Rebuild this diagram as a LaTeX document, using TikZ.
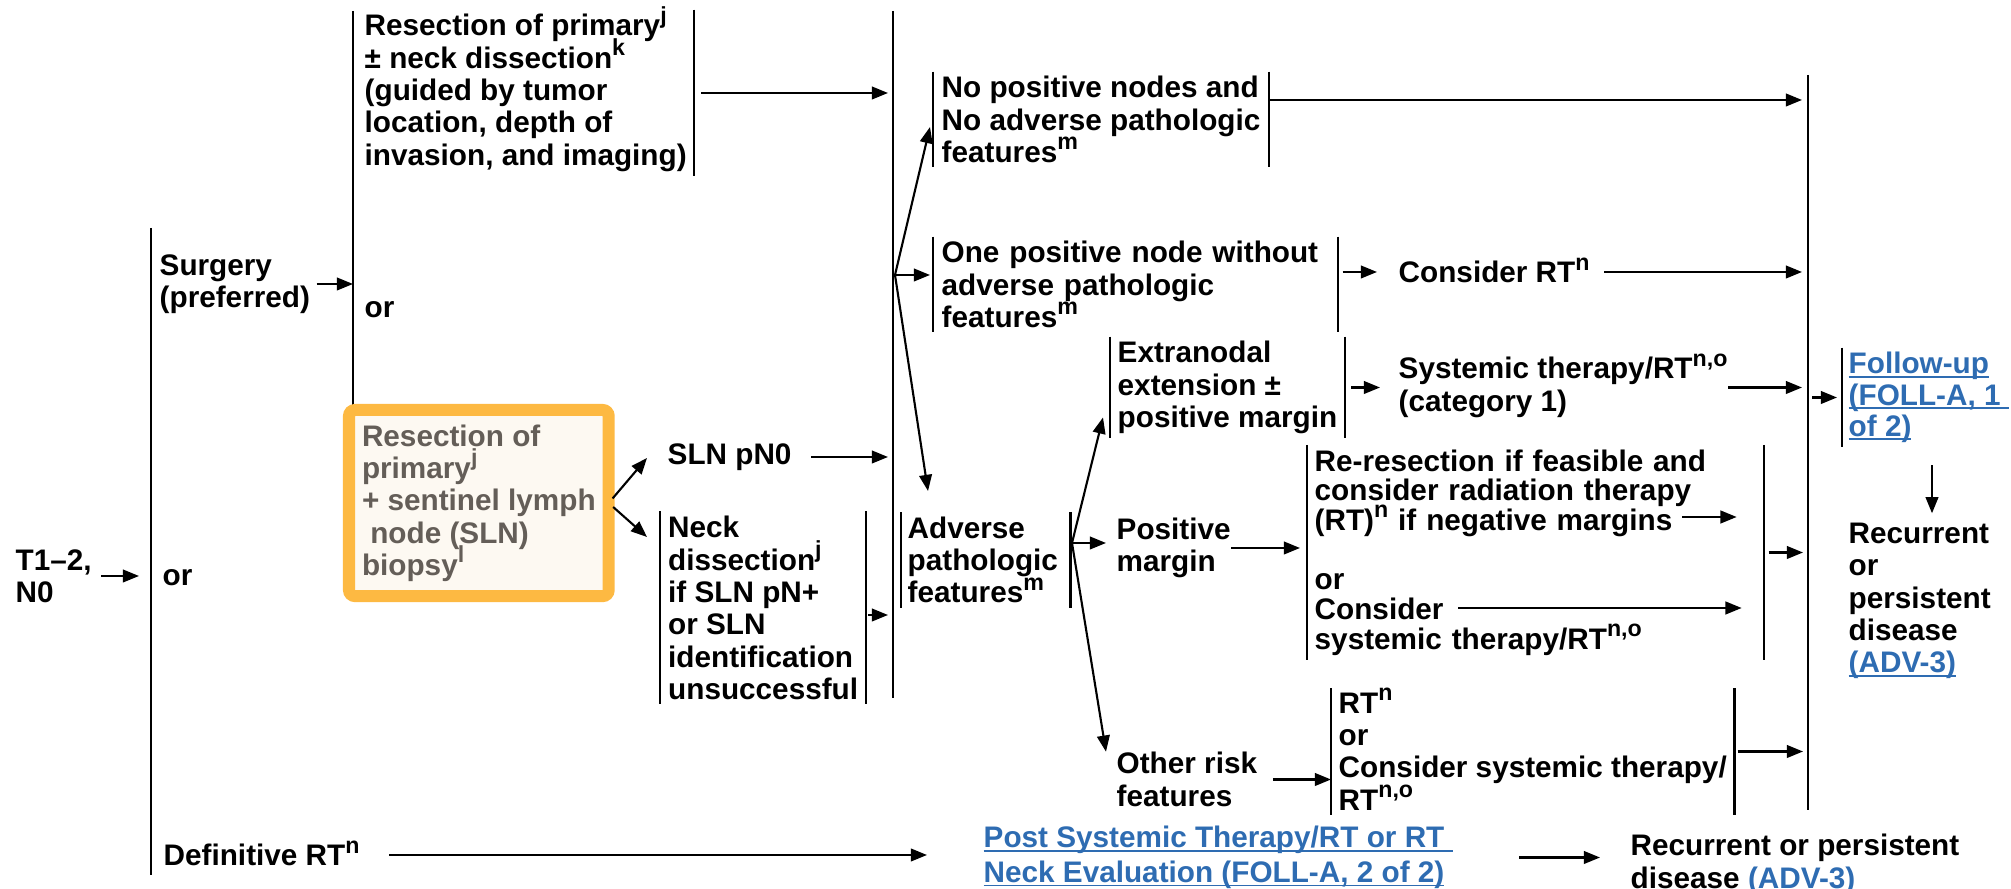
\documentclass[tikz,border=0pt]{standalone}
\usepackage{fontspec}
\setmainfont{Liberation Sans}
\usetikzlibrary{arrows.meta}

\definecolor{nccnorange}{RGB}{253,185,66}
\definecolor{nccncream}{RGB}{253,249,242}
\definecolor{nccngray}{RGB}{100,94,88}
\definecolor{nccnblue}{RGB}{46,108,178}

\newsavebox{\lnkbox}
\newcommand{\fnote}[1]{\raisebox{0.42em}[0pt][0pt]{\fontsize{6.6}{6.6}\selectfont #1}}
\newcommand{\lnk}[1]{{\color{nccnblue}\sbox{\lnkbox}{#1}\rlap{\rule[-1.1pt]{\wd\lnkbox}{0.55pt}}\usebox{\lnkbox}}}

\tikzset{
  txt/.style={anchor=west, inner sep=0pt, align=left,
    font=\bfseries\fontsize{8.45}{9.2}\selectfont},
  brk/.style={txt, inner xsep=0.07cm, inner ysep=0.04cm},
  bar/.style={line width=0.6pt},
  arr/.style={line width=0.6pt, -{Triangle[length=4.6pt,width=3.6pt]}}
}

\begin{document}
\begin{tikzpicture}[x=0.01cm, y=-0.01cm]
\useasboundingbox (0,0) rectangle (2011,889);

%% main bars
\coordinate (b1t) at (151,228);
\coordinate (b1b) at (151,875);
\coordinate (b2t) at (353,11);
\coordinate (b2b) at (353,405);
\coordinate (b3t) at (893,11);
\coordinate (b3b) at (893,698);
\coordinate (b4t) at (1808,75);
\coordinate (b4b) at (1808,810);
\draw[bar] (b1t) -- (b1b);
\draw[bar] (b2t) -- (b2b);
\draw[bar] (b3t) -- (b3b);
\draw[bar] (b4t) -- (b4b);

%% text blocks
\node[txt] (t12) at (15,576) {T1–2,\\N0};
\node[txt] (surg) at (159,284) {Surgery\\(preferred)};
\node[txt] (or1) at (162,578) {or};
\node[txt] (defrt) at (163,855) {Definitive RT\fnote{n}};

\node[brk] (res) at (357,93) {Resection of primary\fnote{j}\\± neck dissection\fnote{k}\\(guided by tumor\\location, depth of\\invasion, and imaging)};
\node[txt] (or2) at (364,310) {or};
\node[txt, anchor=north west, draw=nccnorange, line width=0.12cm, fill=nccncream,
  rounded corners=0.06cm, text=nccngray, minimum height=1.86cm, outer sep=0pt,
  inner xsep=0.13cm] (slnbox) at (349,410)
  {Resection of\\primary\fnote{j}\\+ sentinel lymph\\\hspace*{0.28em}node (SLN)\\biopsy\fnote{l}};
\node[txt] (slnpn0) at (667,457) {SLN pN0};
\node[brk, inner xsep=0.075cm] (neck) at (660,608) {Neck\\dissection\fnote{j}\\if SLN pN+\\or SLN\\identification\\unsuccessful};

\node[brk, inner xsep=0.08cm] (nopos) at (933,119.5) {No positive nodes and\\No adverse pathologic\\features\fnote{m}};
\node[brk, inner xsep=0.08cm, text width=3.87cm] (onepos) at (933,284.5) {One positive node without\\adverse pathologic\\features\fnote{m}};
\node[brk, inner xsep=0.06cm, text width=1.56cm] (adverse) at (901,560) {Adverse\\pathologic\\features\fnote{m}};
\node[txt] (considerrt) at (1398,272) {Consider RT\fnote{n}};
\node[brk] (extra) at (1110,387.5) {Extranodal\\extension ±\\positive margin};
\node[txt] (systher) at (1398,387.5) {Systemic therapy/RT\fnote{n,o}\\(category 1)};
\node[txt] (posm) at (1116,548) {Positive\\margin};
\node[brk, text width=4.41cm, font=\bfseries\fontsize{8.45}{8.45}\selectfont] (rr) at (1307,552.5)
  {Re-resection if feasible and\\consider radiation therapy\\(RT)\fnote{n} if negative margins\\[8.45pt]or\\Consider\\systemic therapy/RT\fnote{n,o}};
\node[txt] (other) at (1116,779.5) {Other risk\\features};
\node[brk] (rtblk) at (1331,751.5) {RT\fnote{n}\\or\\Consider systemic therapy/\\RT\fnote{n,o}};

\node[brk, inner xsep=0.06cm, font=\bfseries\fontsize{8.45}{8.9}\selectfont] (fu) at (1842,397.5)
  {\lnk{Follow-up}\\\lnk{(FOLL-A, 1\ }\\\lnk{of 2)}};
\node[txt] (recur) at (1848,601) {Recurrent\\or\\persistent\\disease\\\lnk{(ADV-3)}};
\node[txt, font=\bfseries\fontsize{8.45}{9.9}\selectfont] (post) at (983,857.5)
  {\lnk{Post Systemic Therapy/RT or RT\ }\\\lnk{Neck Evaluation (FOLL-A, 2 of 2)}};
\node[txt] (recur2) at (1630,864.5) {Recurrent or persistent\\disease \lnk{(ADV-3)}};

%%% bars of the blocks
\draw[bar] (res.north east) -- (res.south east);
\draw[bar] (neck.north west) -- (neck.south west);
\draw[bar] (neck.north east) -- (neck.south east);
\draw[bar] (nopos.north west) -- (nopos.south west);
\draw[bar] (nopos.north east) -- (nopos.south east);
\draw[bar] (onepos.north west) -- (onepos.south west);
\draw[bar] (onepos.north east) -- (onepos.south east);
\draw[bar] (adverse.north west) -- (adverse.south west);
\draw[bar] (adverse.north east) -- (adverse.south east);
\draw[bar] (extra.north west) -- (extra.south west);
\draw[bar] (extra.north east) -- (extra.south east);
\draw[bar] (rr.north west) -- (rr.south west);
\draw[bar] (rr.north east) -- (rr.south east);
\draw[bar] (rtblk.north west) -- (rtblk.south west);
\draw[bar] (rtblk.north east) -- (rtblk.south east);
\draw[bar] (fu.north west) -- (fu.south west);

%%% arrows
\coordinate (slnup) at (647,458);
\coordinate (slndn) at (647,537);
\coordinate (fanA) at (895,275);
\coordinate (fanB) at (1072,543);
\coordinate (noposout) at ([yshift=0.195cm]nopos.east);
\coordinate (oneposout) at ([yshift=0.125cm]onepos.east);
\coordinate (neckout) at ([yshift=-0.07cm]neck.east);
\coordinate (rrA) at (1682,517);
\coordinate (rrB) at (1458,608);
\coordinate (downx) at (1932,0);

\draw[arr, shorten <=0.09cm, shorten >=0.12cm] (t12.east) -- (t12.east -| b1t);
\draw[arr, shorten <=0.06cm] (surg.east) -- (surg.east -| b2t);
\draw[arr, shorten <=0.29cm, shorten >=0.56cm] (defrt.east) -- (defrt.east -| post.west);
\draw[arr, shorten <=0.07cm, shorten >=0.05cm] (res.east) -- (res.east -| b3t);
\draw[arr, shorten <=0.06cm] (slnbox.east) -- (slnup);
\draw[arr, shorten <=0.06cm] (slnbox.east) -- (slndn);
\draw[arr, shorten <=0.19cm, shorten >=0.05cm] (slnpn0.east) -- (slnpn0.east -| b3t);
\draw[arr, shorten <=0.02cm, shorten >=0.05cm] (neckout) -- (neckout -| b3t);

\draw[arr] (fanA) -- ([xshift=-0.03cm,yshift=-0.075cm]nopos.west);
\draw[arr, shorten >=0.03cm] (fanA) -- (fanA -| onepos.west);
\draw[arr] (fanA) -- ([xshift=0.27cm,yshift=0.21cm]adverse.north west);

\draw[arr, shorten >=0.06cm] (noposout) -- (noposout -| b4t);
\draw[arr, shorten <=0.05cm, shorten >=0.21cm] (oneposout) -- (oneposout -| considerrt.west);
\draw[arr, shorten <=0.14cm, shorten >=0.06cm] (considerrt.east) -- (considerrt.east -| b4t);

\draw[arr] (fanB) -- ([xshift=-0.07cm,yshift=0.21cm]extra.south west);
\draw[arr, shorten >=0.1cm] (fanB) -- (fanB -| posm.west);
\draw[arr] (fanB) -- ([xshift=-0.1cm]other.north west);

\draw[arr, shorten <=0.06cm, shorten >=0.18cm] (extra.east) -- (extra.east -| systher.west);
\draw[arr, shorten >=0.06cm] (systher.east) -- (systher.east -| b4t);
\draw[arr, shorten >=0.07cm] (posm.east) -- (posm.east -| rr.west);
\draw[arr, shorten >=0.27cm] (rrA) -- (rrA -| rr.east);
\draw[arr, shorten >=0.22cm] (rrB) -- (rrB -| rr.east);
\draw[arr, shorten <=0.05cm, shorten >=0.05cm] (rr.east) -- (rr.east -| b4t);
\draw[arr, shorten <=0.15cm] (other.east) -- (other.east -| rtblk.west);
\draw[arr, shorten <=0.03cm, shorten >=0.05cm] (rtblk.east) -- (rtblk.east -| b4t);

\draw[arr, shorten <=0.04cm, shorten >=0.05cm] (fu.west -| b4t) -- (fu.west);
\draw[arr, shorten <=0.18cm, shorten >=0.09cm] (fu.south -| downx) -- (recur.north -| downx);
\draw[arr, shorten <=0.66cm, shorten >=0.3cm] (post.east) -- (post.east -| recur2.west);

\end{tikzpicture}
\end{document}
